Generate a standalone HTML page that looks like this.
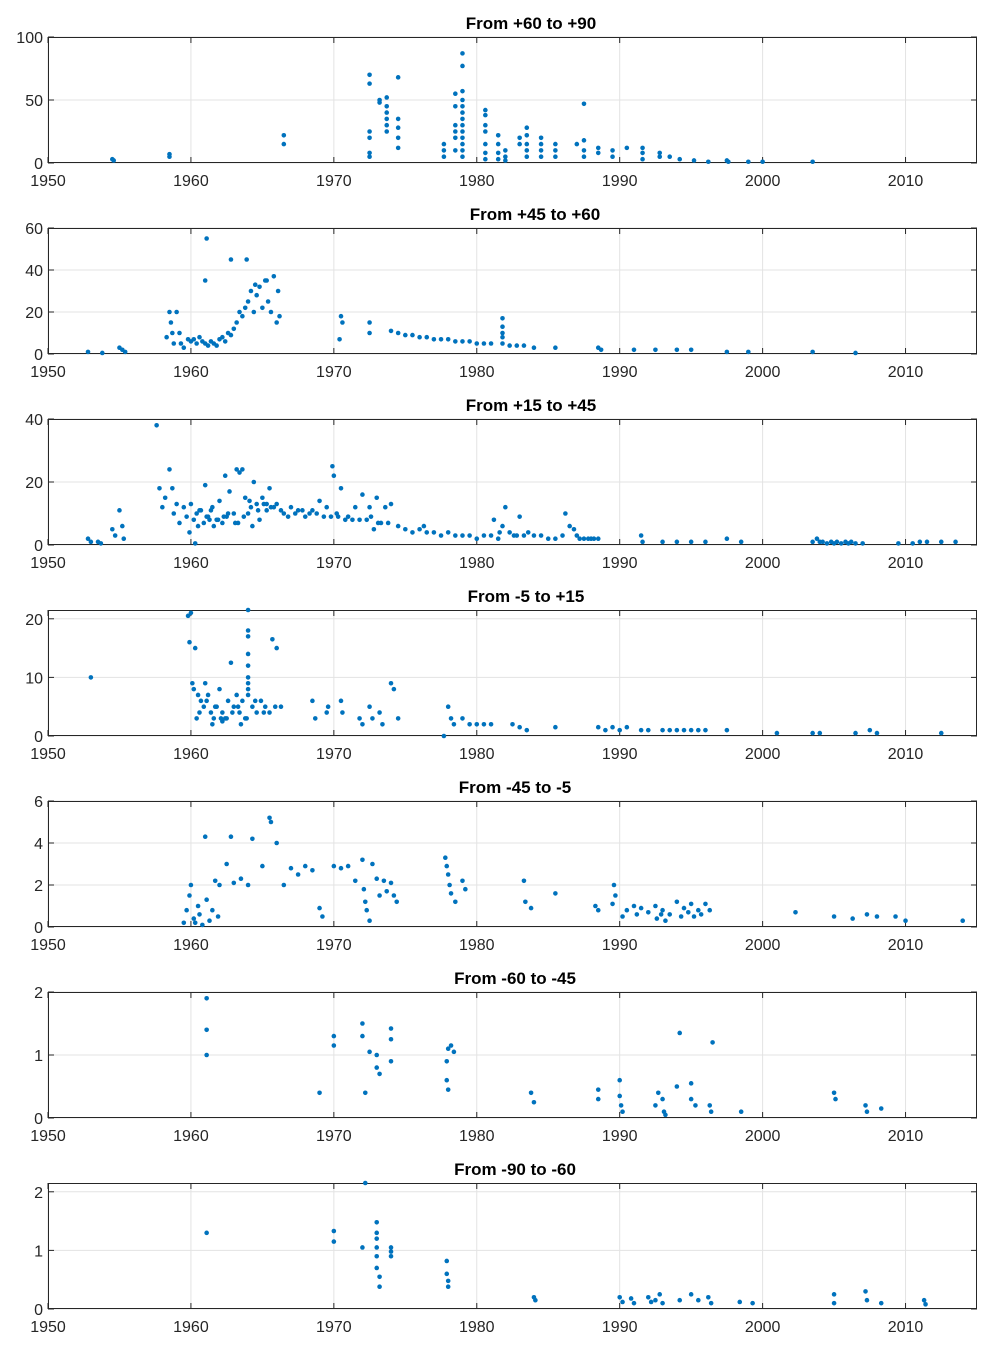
<!DOCTYPE html>
<html><head><meta charset="utf-8"><style>
body{margin:0;background:#fff;font-family:"Liberation Sans",Arial,sans-serif}
svg{display:block}
</style></head><body>
<svg id="fig" width="992" height="1352"></svg>
<script>
const xTicks=[1950,1960,1970,1980,1990,2000,2010];
const titles=["From +60 to +90","From +45 to +60","From +15 to +45","From -5 to +15","From -45 to -5","From -60 to -45","From -90 to -60"];
const yMaxes=[100,60,40,21.5,6,2,2.15];
const yTicks=[[0,50,100],[0,20,40,60],[0,20,40],[0,10,20],[0,2,4,6],[0,1,2],[0,1,2]];
const p1x=[1954.5,1954.6,1958.5,1958.5,1966.5,1966.5,1972.5,1972.5,1972.5,1972.5,1972.5,1972.5,1973.2,1973.2,1973.7,1973.7,1973.7,1973.7,1973.7,1973.7,1974.5,1974.5,1974.5,1974.5,1974.5,1977.7,1977.7,1977.7,1978.5,1978.5,1978.5,1978.5,1978.5,1978.5,1979,1979,1979,1979,1979,1979,1979,1979,1979,1979,1979,1979,1979,1980.6,1980.6,1980.6,1980.6,1980.6,1980.6,1980.6,1981.5,1981.5,1981.5,1981.5,1982,1982,1982,1983,1983,1983.5,1983.5,1983.5,1983.5,1983.5,1984.5,1984.5,1984.5,1984.5,1985.5,1985.5,1985.5,1987,1987.5,1987.5,1987.5,1987.5,1988.5,1988.5,1989.5,1989.5,1990.5,1991.6,1991.6,1991.6,1992.8,1992.8,1993.5,1994.2,1995.2,1996.2,1997.5,1997.6,1999,2000,2003.5];
const p1y=[3,2,7,5,22,15,70,63,25,20,8,5,50,48,52,45,40,35,30,25,68,35,28,20,12,15,10,5,55,45,30,25,20,10,87,77,57,50,45,40,35,30,25,20,15,10,5,42,38,30,25,15,8,3,22,15,8,3,10,5,2,20,15,28,22,15,10,5,20,15,10,5,15,10,5,15,47,18,10,5,12,8,10,5,12,12,8,3,8,5,5,3,2,1,2,1,1,1,1];
const p2x=[1952.8,1953.8,1955,1955.2,1955.4,1958.3,1958.5,1958.6,1958.7,1958.8,1959,1959.2,1959.3,1959.5,1959.8,1960,1960.2,1960.4,1960.6,1960.8,1961,1961.2,1961.4,1961.6,1961.8,1962,1962.2,1962.4,1962.6,1962.8,1963,1963.2,1963.4,1963.6,1963.8,1964,1964.2,1964.4,1964.6,1964.8,1965,1965.2,1965.4,1965.6,1965.8,1966,1966.1,1966.2,1961.1,1961,1962.8,1963.9,1964.5,1965.3,1970.5,1970.6,1970.4,1972.5,1972.5,1974,1974.5,1975,1975.5,1976,1976.5,1977,1977.5,1978,1978.5,1979,1979.5,1980,1980.5,1981,1981.8,1981.8,1981.8,1981.8,1981.8,1982.3,1982.8,1983.3,1984,1985.5,1988.5,1988.7,1991,1992.5,1994,1995,1997.5,1999,2003.5,2006.5];
const p2y=[1,0.5,3,2,1,8,20,15,10,5,20,10,5,3,7,6,7,5,8,6,5,4,6,5,4,7,8,6,10,9,12,15,20,18,22,25,30,20,28,32,22,35,25,20,37,15,30,18,55,35,45,45,33,35,18,15,7,15,10,11,10,9,9,8,8,7,7,7,6,6,6,5,5,5,17,13,10,8,5,4,4,4,3,3,3,2,2,2,2,2,1,1,1,0.5];
const p3x=[1952.8,1953,1953.5,1953.7,1954.5,1954.7,1955,1955.2,1955.3,1957.6,1957.8,1958,1958.2,1958.5,1958.7,1958.8,1959,1959.2,1959.5,1959.7,1960,1960.2,1960.4,1960.5,1960.7,1960.9,1961,1961.2,1961.4,1961.6,1961.8,1962,1962.2,1962.4,1962.5,1962.7,1963,1963.2,1963.4,1963.6,1963.8,1964,1964.2,1964.4,1964.6,1964.8,1965,1965.3,1965.5,1965.8,1966,1966.5,1967,1967.5,1968,1968.5,1969,1969.5,1969.8,1969.9,1970,1970.2,1970.5,1970.8,1971,1971.5,1972,1972.3,1972.5,1972.8,1973,1973.3,1973.6,1974,1974.5,1975,1975.5,1976,1976.5,1977,1977.5,1978,1978.5,1979,1979.5,1980,1980.5,1981,1981.5,1981.8,1982,1982.3,1982.8,1983,1983.3,1983.6,1984,1984.5,1985,1985.5,1986,1986.2,1986.5,1987,1987.5,1988,1988.5,1991.5,1991.6,1993,1994,1995,1996,1997.5,1998.5,2003.5,2004,2004.5,2005,2005.5,2006,2006.5,2007,2009.5,2010.5,2011,2011.5,2012.5,2013.5,1960.3,1961.3,1962.3,1963.3,1964.3,1965.3,1966.3,1967.3,1968.3,1969.3,1971.3,1973.8,1976.3,1959.9,1960.6,1961.1,1961.5,1961.9,1962.6,1963.1,1963.7,1964.1,1964.7,1965.1,1965.6,1966.8,1967.8,1968.8,1970.3,1971.8,1972.6,1973.1,1981.2,1981.6,1982.6,1986.8,1987.2,1987.8,1988.2,2003.8,2004.2,2004.8,2005.2,2005.8,2006.2];
const p3y=[2,1,1,0.5,5,3,11,6,2,38,18,12,15,24,18,10,13,7,12,9,13,8,10,6,11,7,19,9,11,6,8,14,7,22,9,17,10,24,23,24,15,10,12,20,13,8,15,11,18,12,13,10,12,11,9,11,14,12,9,25,22,10,18,8,9,12,16,8,12,5,15,7,12,13,6,5,4,5,4,4,3,4,3,3,3,2,3,3,2,6,12,4,3,9,3,4,3,3,2,2,3,10,6,3,2,2,2,3,1,1,1,1,1,2,1,1,1,0.5,0.5,0.5,0.5,0.5,0.5,0.5,0.5,1,1,1,1,0.5,8,9,7,6,13,11,10,10,9,8,7,6,4,11,9,12,8,10,7,9,14,11,13,12,9,11,10,9,8,9,7,8,4,3,5,2,2,2,2,1,1,1,1,1,1];
const p4x=[1953,1959.8,1959.9,1960,1960.1,1960.2,1960.3,1960.5,1960.7,1960.9,1961,1961.2,1961.4,1961.6,1961.8,1962,1962.2,1962.4,1962.6,1962.8,1963,1963.2,1963.4,1963.6,1963.8,1964,1964,1964,1964,1964,1964,1964,1964,1964,1964.3,1964.6,1964.9,1965.2,1965.5,1965.7,1966,1966.3,1968.5,1968.7,1969.5,1969.6,1970.5,1970.6,1971.8,1972,1972.5,1972.7,1973.2,1973.4,1974,1974.2,1974.5,1977.7,1978,1978.2,1978.4,1979,1979.5,1980,1980.5,1981,1982.5,1983,1983.5,1985.5,1988.5,1989,1989.5,1990,1990.5,1991.5,1992,1993,1993.5,1994,1994.5,1995,1995.5,1996,1997.5,2001,2003.5,2004,2006.5,2007.5,2008,2012.5,1960.4,1961.5,1962.5,1963.5,1962.2,1960.6,1961.1,1961.7,1962.1,1962.9,1963.3,1963.9,1964.5,1965.1,1965.9];
const p4y=[10,20.5,16,21,9,8,15,7,6,5,9,7,4,3,5,8,4,3,6,12.5,5,7,4,6,3,21.5,18,17,14,12,10,9,8,7,5,4,6,5,4,16.5,15,5,6,3,4,5,6,4,3,2,5,3,4,2,9,8,3,0,5,3,2,3,2,2,2,2,2,1.5,1,1.5,1.5,1,1.5,1,1.5,1,1,1,1,1,1,1,1,1,1,0.5,0.5,0.5,0.5,1,0.5,0.5,3,2,3,2,2.5,4,6,5,3,4,5,3,6,4,5];
const p5x=[1959.5,1959.7,1959.9,1960,1960.2,1960.3,1960.5,1960.6,1960.8,1961,1961.1,1961.3,1961.5,1961.7,1961.9,1962,1962.5,1962.8,1963,1963.5,1964,1964.3,1965,1965.5,1965.6,1966,1966.5,1967,1967.5,1968,1968.5,1969,1969.2,1970,1970.5,1971,1971.5,1972,1972.1,1972.2,1972.3,1972.5,1972.7,1973,1973.2,1973.5,1973.7,1974,1974.2,1974.4,1977.8,1977.9,1978,1978.1,1978.2,1978.5,1979,1979.2,1983.3,1983.4,1983.8,1985.5,1988.3,1988.5,1989.5,1989.6,1989.7,1990.5,1991,1991.5,1992,1992.5,1993,1993.5,1994,1994.5,1995,1995.5,1996,1996.3,2002.3,2005,2006.3,2007.3,2008,2009.3,2010,2014,1992.6,1992.9,1993.2,1994.3,1994.8,1995.2,1995.7,1990.2,1991.2];
const p5y=[0.2,0.8,1.5,2,0.4,0.2,1,0.6,0.1,4.3,1.3,0.3,0.8,2.2,0.5,2,3,4.3,2.1,2.3,2,4.2,2.9,5.2,5,4,2,2.8,2.5,2.9,2.7,0.9,0.5,2.9,2.8,2.9,2.2,3.2,1.8,1.2,0.8,0.3,3,2.3,1.5,2.2,1.7,2.1,1.5,1.2,3.3,2.9,2.5,2,1.6,1.2,2.2,1.8,2.2,1.2,0.9,1.6,1,0.8,1.1,2,1.5,0.8,1,0.9,0.7,1,0.8,0.6,1.2,0.9,1.1,0.8,1.1,0.8,0.7,0.5,0.4,0.6,0.5,0.5,0.3,0.3,0.4,0.6,0.3,0.5,0.7,0.5,0.6,0.5,0.6];
const p6x=[1961.1,1961.1,1961.1,1969,1970,1970,1972,1972,1972.2,1972.5,1973,1973,1973.2,1974,1974,1974,1977.9,1977.9,1978,1978,1978.2,1978.4,1983.8,1984,1988.5,1988.5,1990,1990,1990.1,1990.2,1992.5,1992.7,1993,1993.1,1993.2,1994,1994.2,1995,1995,1995.3,1996.3,1996.4,1996.5,1998.5,2005,2005.1,2007.2,2007.3,2008.3];
const p6y=[1.9,1.4,1,0.4,1.3,1.15,1.5,1.3,0.4,1.05,1,0.8,0.7,1.42,1.25,0.9,0.9,0.6,0.45,1.1,1.15,1.05,0.4,0.25,0.45,0.3,0.6,0.35,0.2,0.1,0.2,0.4,0.3,0.1,0.05,0.5,1.35,0.55,0.3,0.2,0.2,0.1,1.2,0.1,0.4,0.3,0.2,0.1,0.15];
const p7x=[1961.1,1970,1970,1972,1972.2,1973,1973,1973,1973,1973,1973,1973.2,1973.2,1974,1974,1974,1977.9,1977.9,1978,1978,1984,1984.1,1990,1990.2,1990.8,1991,1992,1992.2,1992.5,1992.8,1993,1994.2,1995,1995.5,1996.2,1996.4,1998.4,1999.3,2005,2005,2007.2,2007.3,2008.3,2011.3,2011.4];
const p7y=[1.3,1.33,1.15,1.05,2.15,1.48,1.3,1.2,1.05,0.9,0.7,0.55,0.38,1.05,0.9,0.98,0.82,0.6,0.48,0.38,0.2,0.15,0.2,0.12,0.18,0.1,0.2,0.12,0.15,0.25,0.1,0.15,0.25,0.15,0.2,0.1,0.12,0.1,0.25,0.1,0.3,0.15,0.1,0.15,0.08];
const dataX=[p1x,p2x,p3x,p4x,p5x,p6x,p7x];
const dataY=[p1y,p2y,p3y,p4y,p5y,p6y,p7y];
const titleCenters=[531,535,531,526,515,515,515];

const NS="http://www.w3.org/2000/svg";
const svg=document.getElementById('fig');
function mk(t,a,parent){const e=document.createElementNS(NS,t);for(const k in a)e.setAttribute(k,a[k]);(parent||svg).appendChild(e);return e;}
const L=48,R=977,H=126,x0=1950,x1=2015;
const sx=v=>L+(v-x0)/(x1-x0)*(R-L);
for(let p=0;p<7;p++){
  const top=37+p*191,bot=top+H;
  const sy=v=>bot-v/yMaxes[p]*H;
  const g=mk('g',{});
  
  
  const bg=mk('rect',{x:L,y:top,width:R-L,height:H,fill:'#fff'},g);
  
  
  xTicks.forEach(t=>{
    const X=sx(t);
    mk('line',{x1:X,x2:X,y1:top,y2:bot,stroke:'#e3e3e3','stroke-width':1},g);
    mk('line',{x1:X,x2:X,y1:bot,y2:bot-6,stroke:'#262626'},g);
    mk('line',{x1:X,x2:X,y1:top,y2:top+6,stroke:'#262626'},g);
    const tx=mk('text',{x:X,y:bot+23,'text-anchor':'middle','font-size':16,fill:'#262626'},g);
    tx.textContent=t;
    
    
  });
  yTicks[p].forEach(t=>{
    const Y=sy(t);
    mk('line',{x1:L,x2:R,y1:Y,y2:Y,stroke:'#e3e3e3'},g);
    mk('line',{x1:L,x2:L+6,y1:Y,y2:Y,stroke:'#262626'},g);
    mk('line',{x1:R,x2:R-6,y1:Y,y2:Y,stroke:'#262626'},g);
    const ty=mk('text',{x:L-5,y:Y+6,'text-anchor':'end','font-size':16,fill:'#262626'},g);
    ty.textContent=t;
    
    
  });
  const fr=mk('rect',{x:L+0.5,y:top+0.5,width:R-L-1,height:H-1,fill:'none',stroke:'#262626','stroke-width':1},g);
  
  
  const ti=mk('text',{x:titleCenters[p],y:top-8,'text-anchor':'middle','font-size':17,'font-weight':'bold',fill:'#000'},g);
  ti.textContent=titles[p];
  
  
  const xs=dataX[p],ys=dataY[p];
  for(let i=0;i<xs.length;i++){
    const c=mk('circle',{cx:sx(xs[i]),cy:sy(ys[i]),r:2.3,fill:'#0072BD'},g);
    
    
  }
}
</script>
</body></html>
